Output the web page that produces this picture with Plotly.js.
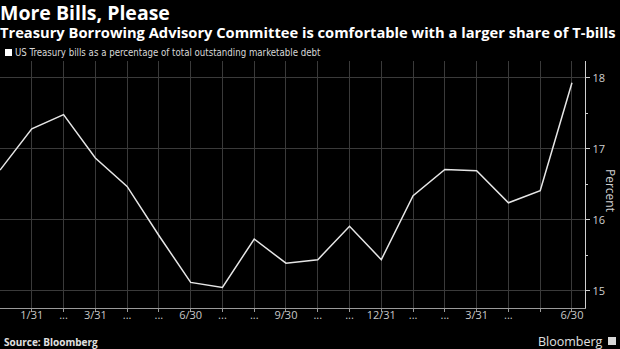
<!DOCTYPE html>
<html>
<head>
<meta charset="utf-8">
<script src="https://cdn.plot.ly/plotly-3.0.1.min.js"></script>
<style>html,body{margin:0;padding:0;background:#000;}#chart{width:620px;height:349px;}</style>
</head>
<body>
<div id="chart"></div>
<script>
// Data (month-end observations, Dec 31 through Jun 30 of the following year)
const positions = [0,1,2,3,4,5,6,7,8,9,10,11,12,13,14,15,16,17,18];
const billShare = [16.70,17.28,17.48,16.87,16.47,15.78,15.12,15.05,15.73,15.39,15.44,15.91,15.44,16.34,16.71,16.69,16.24,16.41,17.93];
const tickPositions = [1,2,3,4,5,6,7,8,9,10,11,12,13,14,15,16,17,18];
const tickLabels = ["1/31","...","3/31","...","...","6/30","...","...","9/30","...","...","12/31","...","...","3/31","...","","6/30"];

const titleText = "More Bills, Please";
const subtitleText = "Treasury Borrowing Advisory Committee is comfortable with a larger share of T-bills";
const legendText = "US Treasury bills as a percentage of total outstanding marketable debt";

const trace = {
  x: positions, y: billShare, type: 'scatter', mode: 'lines',
  line: {color: '#e6e6e6', width: 1.5}, hoverinfo: 'skip', showlegend: false
};

const PH = 247, PW = 585, B = 308; // plot height/width, bottom edge in px
const py = v => (B - v) / PH;
const px = v => v / PW;

const layout = {
  width: 620, height: 349,
  paper_bgcolor: '#000', plot_bgcolor: '#000',
  margin: {l: 0, r: 35, t: 61, b: 41},
  showlegend: false,
  font: {family: 'Open Sans, sans-serif', color: '#cccccc'},
  xaxis: {
    range: [0, 18.41], tickmode: 'array', tickvals: tickPositions, ticktext: tickLabels,
    showgrid: true, gridcolor: '#3a3a3a', gridwidth: 1,
    showline: true, linecolor: '#9a9a9a', linewidth: 1.2,
    ticks: 'outside', ticklen: 3, tickcolor: '#9a9a9a',
    ticklabelstandoff: -6,
    tickfont: {family: 'Open Sans, sans-serif', size: 11, color: '#c8c8c8'},
    zeroline: false, fixedrange: true
  },
  yaxis: {
    side: 'right', range: [14.76, 18.235], tickvals: [15,16,17,18],
    showgrid: true, gridcolor: '#3a3a3a', gridwidth: 1,
    showline: true, linecolor: '#d0d0d0', linewidth: 1.2,
    ticks: 'outside', ticklen: 4, tickcolor: '#d0d0d0',
    minor: {tickvals: [15.5,16.5,17.5], ticks: 'outside', ticklen: 2, tickcolor: '#d0d0d0', showgrid: false},
    tickfont: {family: 'Open Sans, sans-serif', size: 11, color: '#d0d0d0'},
    zeroline: false, fixedrange: true
  },
  shapes: [
    {type: 'rect', xref: 'paper', yref: 'paper', x0: px(5), x1: px(12), y0: py(56), y1: py(49), fillcolor: '#ffffff', line: {width: 0}},
    {type: 'rect', xref: 'paper', yref: 'paper', x0: px(608), x1: px(616), y0: py(345), y1: py(337), fillcolor: '#d8d8d8', line: {width: 0}}
  ],
  annotations: [
    {text: '<b>' + titleText + '</b>', xref: 'paper', yref: 'paper', x: px(-1), y: py(13), xanchor: 'left', yanchor: 'middle', showarrow: false,
     borderpad: 0, font: {family: 'Open Sans, sans-serif', size: 19.5, color: '#ffffff'}},
    {text: '<b>' + subtitleText + '</b>', xref: 'paper', yref: 'paper', x: px(-1), y: py(32), xanchor: 'left', yanchor: 'middle', showarrow: false,
     borderpad: 0, font: {family: 'Open Sans, sans-serif', size: 14.7, color: '#ffffff'}},
    {text: legendText, xref: 'paper', yref: 'paper', x: px(13), y: py(53), xanchor: 'left', yanchor: 'middle', showarrow: false,
     font: {family: 'Liberation Sans Narrow, DejaVu Sans Condensed, sans-serif', size: 9.6, color: '#d8d8d8'}},
    {text: 'Percent', xref: 'paper', yref: 'paper', x: px(610), y: py(190), xanchor: 'center', yanchor: 'middle', textangle: 90, showarrow: false,
     font: {family: 'Open Sans, sans-serif', size: 12, color: '#d0d0d0'}},
    {text: '<b>Source: Bloomberg</b>', xref: 'paper', yref: 'paper', x: px(2), y: py(342), xanchor: 'left', yanchor: 'middle', showarrow: false,
     font: {family: 'Open Sans, sans-serif', size: 10, color: '#e0e0e0'}},
    {text: 'Bloomberg', xref: 'paper', yref: 'paper', x: px(605), y: py(341), xanchor: 'right', yanchor: 'middle', showarrow: false,
     font: {family: 'Open Sans, sans-serif', size: 12.5, color: '#e0e0e0'}}
  ]
};

Plotly.newPlot('chart', [trace], layout, {displayModeBar: false, staticPlot: true});
</script>
</body>
</html>
